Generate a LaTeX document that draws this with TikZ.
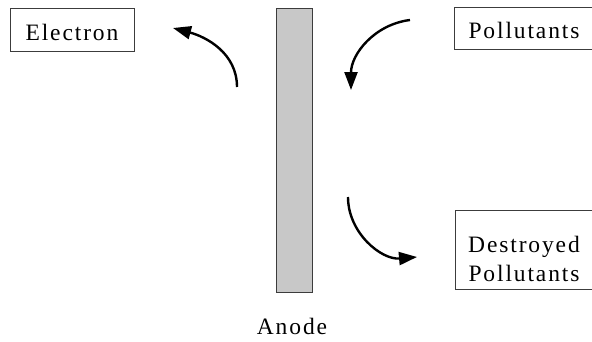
\documentclass[tikz,border=0pt]{standalone}
\usepackage{fontspec}
\setmainfont{Liberation Serif}[LetterSpace=8]
\usetikzlibrary{arrows.meta}
\definecolor{anodefill}{RGB}{200,200,200}
\definecolor{edge}{RGB}{60,60,60}
\begin{document}
\begin{tikzpicture}[x=1pt,y=1pt,
  lbl/.style={font=\fontsize{23.5}{29}\selectfont},
  boxed/.style={draw=edge,line width=0.9pt,inner sep=0pt,lbl,text height=21pt,text depth=0pt},
  flow/.style={line width=2.4pt,-{Triangle[length=18pt,width=13pt]}}]
\useasboundingbox (0,0) rectangle (592,341);
\node[draw=edge,line width=0.9pt,fill=anodefill,minimum width=36pt,minimum height=284pt,inner sep=0pt] (anode) at (294,191) {};
\node[boxed,minimum width=124pt,minimum height=43pt] (electron) at (72,311.5) {Electron};
\node[boxed,minimum width=140pt,minimum height=42pt] (poll) at (524,313) {Pollutants};
\node[draw=edge,line width=0.9pt,minimum width=139pt,minimum height=79pt,inner sep=0pt] (dest) at (524.5,91.5) {};
\node[lbl,anchor=base] (destA) at (524,89) {Destroyed};
\node[lbl,anchor=base] (destB) at (524,60) {Pollutants};
\node[lbl,anchor=base] (anodelbl) at (292,7) {Anode};
\coordinate (s1) at (237,254);
\coordinate (t1) at (173,313);
\coordinate (s2) at (410,321);
\coordinate (t2) at (351,251);
\coordinate (s3) at (348,144);
\coordinate (t3) at (417,84);
\draw[flow] (s1) to[out=90,in=-15] (t1);
\draw[flow] (s2) to[out=187,in=90] (t2);
\draw[flow] (s3) to[out=-90,in=185] (t3);
\end{tikzpicture}
\end{document}
